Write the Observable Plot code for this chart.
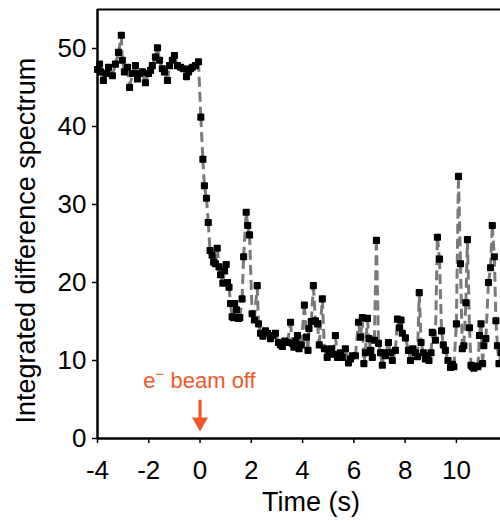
<!DOCTYPE html>
<html><head><meta charset="utf-8">
<script src="https://cdn.jsdelivr.net/npm/d3@7"></script>
<script src="https://cdn.jsdelivr.net/npm/@observablehq/plot@0.6"></script>
<style>html,body{margin:0;padding:0;background:#fff;overflow:hidden} svg{display:block}</style>
</head><body><div id="chart"></div>
<script>
// Data
const beforeTime = [
  -4.00,-3.92,-3.88,-3.77,-3.65,-3.57,-3.42,-3.30,-3.18,-3.07,
  -3.03,-2.95,-2.83,-2.75,-2.64,-2.52,-2.44,-2.36,-2.25,-2.13,
  -2.01,-1.93,-1.86,-1.74,-1.66,-1.58,-1.47,-1.39,-1.27,-1.19,
  -1.08,-1.00,-0.88,-0.76,-0.65,-0.53,-0.45,-0.37,-0.30,-0.18,
  -0.06
];
const beforeSignal = [
  47.3,48.0,47.0,45.9,46.8,47.6,46.5,48.0,49.5,51.7,
  48.5,47.0,47.6,45.0,46.8,47.8,46.1,46.8,47.0,45.6,
  46.8,47.2,47.8,48.9,50.1,48.5,47.4,47.0,45.9,47.8,
  48.5,49.1,47.8,47.6,47.4,46.4,47.0,47.4,47.6,47.8,
  48.3
];
const afterTime = [
  0.03,0.11,0.17,0.25,0.32,0.39,0.47,0.53,0.60,0.67,
  0.74,0.80,0.89,0.95,1.02,1.07,1.13,1.19,1.25,1.30,
  1.35,1.42,1.50,1.55,1.64,1.70,1.80,1.86,1.93,2.03,
  2.12,2.23,2.28,2.36,2.45,2.55,2.63,2.75,2.84,2.94,
  3.06,3.14,3.21,3.31,3.41,3.53,3.60,3.66,3.74,3.80,
  3.86,3.95,4.07,4.15,4.21,4.25,4.34,4.42,4.50,4.58,
  4.65,4.77,4.85,4.96,5.03,5.12,5.20,5.28,5.36,5.48,
  5.55,5.67,5.79,5.87,5.94,6.06,6.18,6.26,6.33,6.39,
  6.45,6.53,6.59,6.65,6.72,6.80,6.88,6.96,7.04,7.11,
  7.17,7.23,7.35,7.43,7.50,7.62,7.70,7.78,7.84,7.89,
  8.01,8.13,8.21,8.30,8.40,8.48,8.55,8.62,8.71,8.79,
  8.87,8.93,9.01,9.06,9.18,9.26,9.34,9.42,9.49,9.57,
  9.67,9.77,9.84,9.90,10.00,10.08,10.16,10.23,10.29,10.37,
  10.43,10.51,10.57,10.62,10.68,10.78,10.84,10.90,10.96,11.02,
  11.07,11.15,11.25,11.33,11.40,11.48,11.54,11.60,11.66,11.75
];
const afterSignal = [
  41.2,35.8,32.4,30.8,27.7,24.1,23.5,22.6,22.4,24.4,
  22.0,21.0,19.9,21.5,22.3,20.0,19.4,17.3,15.6,15.5,
  17.3,16.5,15.4,15.5,17.9,23.3,29.0,27.3,26.1,16.0,
  15.2,19.6,14.7,13.5,13.1,13.8,13.5,12.8,13.2,13.5,
  12.3,12.0,11.8,12.5,12.3,14.9,12.2,11.7,12.5,13.2,
  11.5,12.0,17.1,13.0,11.3,14.1,15.0,19.6,15.1,14.7,
  12.0,17.9,11.5,10.4,11.0,11.5,10.8,13.2,10.4,11.0,
  10.4,11.5,9.7,10.2,10.6,10.6,14.9,13.0,15.5,9.6,
  11.0,15.4,12.8,11.3,10.4,12.6,25.4,12.2,11.0,9.4,
  11.0,10.6,12.3,11.0,10.0,11.3,15.3,14.2,15.2,13.5,
  12.9,11.3,10.0,11.5,11.0,10.5,18.7,12.3,11.0,10.2,
  10.6,10.0,11.0,13.6,12.6,25.8,23.0,13.8,12.0,11.3,
  10.0,9.1,9.5,9.2,14.7,33.6,22.4,11.5,11.9,17.4,
  25.5,14.2,9.4,9.2,9.0,9.3,9.2,13.2,14.7,9.6,
  11.9,12.8,20.0,21.9,27.3,23.3,15.1,11.9,9.6,11.0
];
const xTicks = [-4,-2,0,2,4,6,8,10];
const yTicks = [0,10,20,30,40,50];
const xLabel = "Time (s)";
const yLabel = "Integrated difference spectrum";
const beamOffTime = 0;
const annotationParts = ["e", "\u2212", " beam off"];

const red = "#f0582a";
const time = beforeTime.concat(afterTime);
const signal = beforeSignal.concat(afterSignal);
const points = time.map((t, i) => ({t, v: signal[i]}));
const segments = points.slice(1).map((p, i) => ({x1: points[i].t, y1: points[i].v, x2: p.t, y2: p.v}));

const downTriangle = {draw(ctx) { ctx.moveTo(0, 0); ctx.lineTo(-8, -14); ctx.lineTo(8, -14); ctx.closePath(); }};

const fig = Plot.plot({
  width: 500, height: 521,
  marginLeft: 97, marginRight: 0, marginTop: 9, marginBottom: 83,
  style: {fontFamily: "'Liberation Sans', Arial, sans-serif", fontSize: "26px", background: "#fff", color: "#000"},
  x: {domain: [-4, 11.72]},
  y: {domain: [0, 55]},
  marks: [
    Plot.link(segments, {x1: "x1", y1: "y1", x2: "x2", y2: "y2", stroke: "#7a7a7a", strokeWidth: 3, strokeDasharray: "10,5"}),
    Plot.dot(points, {x: "t", y: "v", symbol: "square", r: 3.1, fill: "#000", stroke: "#000", strokeWidth: 1.6, strokeLinejoin: "round"}),
    Plot.ruleY([55], {stroke: "#000", strokeWidth: 2}),
    Plot.ruleX([-4], {stroke: "#000", strokeWidth: 2.5}),
    Plot.ruleY([0], {stroke: "#000", strokeWidth: 2.5}),
    Plot.axisX({ticks: xTicks, tickFormat: d => String(d), tickSize: 5, tickPadding: 17, label: null, strokeWidth: 1.5}),
    Plot.axisY({ticks: yTicks, tickFormat: d => String(d), tickSize: 5, tickPadding: 6, label: null, strokeWidth: 1.5}),
    Plot.ruleX([{t: beamOffTime}], {x: "t", y1: 4.9, y2: 2.0, stroke: red, strokeWidth: 3.2}),
    Plot.dot([{t: beamOffTime, v: 0.9}], {x: "t", y: "v", symbol: downTriangle, fill: red, stroke: "none"})
  ]
});

const xs = fig.scale("x"), ys = fig.scale("y");
const svg = d3.select(fig);

// annotation
const ann = svg.append("text")
  .attr("x", xs.apply(beamOffTime)).attr("y", ys.apply(6.4))
  .attr("text-anchor", "middle").attr("fill", red)
  .style("font-size", "22px").style("font-family", "'Liberation Sans', Arial, sans-serif");
ann.append("tspan").text(annotationParts[0]);
ann.append("tspan").attr("dy", -9).style("font-size", "15px").text(annotationParts[1]);
ann.append("tspan").attr("dy", 9).text(annotationParts[2]);

// axis titles
svg.append("text")
  .attr("x", xs.apply(4.35)).attr("y", 511)
  .attr("text-anchor", "middle").attr("fill", "#000")
  .style("font-size", "27px").text(xLabel);
svg.append("text")
  .attr("transform", `translate(35,${ys.apply(25.3)}) rotate(-90)`)
  .attr("text-anchor", "middle").attr("fill", "#000")
  .style("font-size", "27px").text(yLabel);

document.getElementById("chart").appendChild(fig);
</script>
</body></html>
